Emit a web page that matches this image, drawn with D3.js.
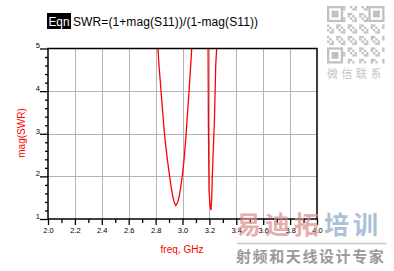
<!DOCTYPE html>
<html>
<head>
<meta charset="utf-8">
<script src="https://cdn.jsdelivr.net/npm/d3@7"></script>
<style>
  body { margin: 0; background: #fff; }
  svg { display: block; font-family: "Liberation Sans", Arial, sans-serif; }
</style>
</head>
<body>
<svg id="chart" width="394" height="271"></svg>
<script>
const svg = d3.select("#chart");

// SWR curve (freq in GHz, mag(SWR))
const freq = [2.800, 2.8125, 2.825, 2.8375, 2.850, 2.8625, 2.875, 2.8875, 2.900, 2.9125,
              2.925, 2.9375, 2.950, 2.9625, 2.975, 2.9875, 3.000, 3.0125, 3.025, 3.0375,
              3.050, 3.0625, 3.075, 3.130, 3.1875, 3.1925, 3.1975, 3.205, 3.212, 3.217,
              3.222, 3.229, 3.237, 3.242, 3.247, 3.254, 3.262];
const swr  = [6.2, 5.25, 4.62, 4.12, 3.62, 3.12, 2.72, 2.40, 2.10, 1.82,
              1.57, 1.40, 1.32, 1.38, 1.52, 1.76, 2.05, 2.42, 2.92, 3.48,
              4.06, 4.68, 5.35, 9.0, 7.0, 3.2, 1.65, 1.30, 1.21, 1.48,
              2.03, 2.65, 3.28, 3.90, 4.60, 5.0, 5.6];

const xTicks = [2.0, 2.2, 2.4, 2.6, 2.8, 3.0, 3.2, 3.4, 3.6, 3.8, 4.0];
const yTicks = [1, 2, 3, 4, 5];

const plot = { left: 48, right: 317, top: 48.5, bottom: 219 };

const x = d3.scaleLinear().domain([2, 4]).range([plot.left, plot.right]);
const y = d3.scaleLinear().domain([1, 5]).range([plot.bottom, plot.top]);

// title
svg.append("rect").attr("x", 47).attr("y", 13).attr("width", 24).attr("height", 16).attr("fill", "#000");
svg.append("text").attr("x", 48.5).attr("y", 25.5).attr("fill", "#fff").attr("font-size", 12)
    .attr("textLength", 21).attr("lengthAdjust", "spacingAndGlyphs").text("Eqn");
svg.append("text").attr("x", 73).attr("y", 25.5).attr("fill", "#000").attr("font-size", 12)
    .attr("textLength", 185).text("SWR=(1+mag(S11))/(1-mag(S11))");

// grid
svg.append("g").selectAll("line").data(xTicks.slice(1, -1)).enter().append("line")
    .attr("x1", d => Math.round(x(d)) + 0.5).attr("x2", d => Math.round(x(d)) + 0.5)
    .attr("y1", plot.top).attr("y2", plot.bottom)
    .attr("stroke", "#b4b4b4").attr("stroke-width", 1);
svg.append("g").selectAll("line").data(yTicks.slice(1, -1)).enter().append("line")
    .attr("y1", d => Math.round(y(d)) + 0.5).attr("y2", d => Math.round(y(d)) + 0.5)
    .attr("x1", plot.left).attr("x2", plot.right)
    .attr("stroke", "#b4b4b4").attr("stroke-width", 1);

// curve
svg.append("clipPath").attr("id", "clip").append("rect")
    .attr("x", plot.left).attr("y", plot.top)
    .attr("width", plot.right - plot.left).attr("height", plot.bottom - plot.top);

const line = d3.line().x((d, i) => x(freq[i])).y(d => y(d));
svg.append("path").datum(swr)
    .attr("clip-path", "url(#clip)")
    .attr("d", line)
    .attr("fill", "none").attr("stroke", "#ff0000").attr("stroke-width", 1.3);

// frame
svg.append("rect").attr("x", plot.left).attr("y", plot.top)
    .attr("width", plot.right - plot.left).attr("height", plot.bottom - plot.top)
    .attr("fill", "none").attr("stroke", "#000").attr("stroke-width", 1.5);

// axes
const xAxis = svg.append("g").attr("transform", `translate(0,${plot.bottom})`)
    .call(d3.axisBottom(x).tickValues(d3.range(2.0, 4.05, 0.1)).tickSize(5)
        .tickFormat(d => xTicks.some(t => Math.abs(t - d) < 1e-6) ? d3.format(".1f")(d) : ""));
xAxis.select(".domain").remove();
xAxis.selectAll(".tick line").attr("stroke", "#000").attr("stroke-width", 1.3)
    .attr("y2", (d, i) => i % 2 === 0 ? 6 : 4);
xAxis.selectAll(".tick text").attr("font-size", 7.5).attr("font-family", "Liberation Sans, Arial")
    .attr("fill", "#000").attr("y", 9);

const yAxis = svg.append("g").attr("transform", `translate(${plot.left},0)`)
    .call(d3.axisLeft(y).tickValues(d3.range(1, 5.01, 0.2)).tickSize(5)
        .tickFormat(d => Math.abs(d - Math.round(d)) < 1e-6 ? d3.format("d")(Math.round(d)) : ""));
yAxis.select(".domain").remove();
yAxis.selectAll(".tick line").attr("stroke", "#000").attr("stroke-width", 1.3)
    .attr("x2", (d, i) => i % 5 === 0 ? -8 : -3);
yAxis.selectAll(".tick text").attr("font-size", 7.5).attr("font-family", "Liberation Sans, Arial")
    .attr("fill", "#000").attr("x", -8).attr("dy", "-0.1em");

// axis titles
svg.append("text").attr("x", 182).attr("y", 253).attr("text-anchor", "middle")
    .attr("fill", "#ff0000").attr("font-size", 10).text("freq, GHz");
svg.append("text").attr("transform", "translate(25,133) rotate(-90)").attr("text-anchor", "middle")
    .attr("fill", "#ff0000").attr("font-size", 10).text("mag(SWR)");

// watermark: QR block
const qr = svg.append("g").attr("transform", "translate(327,6)").attr("opacity", 0.45);
const cell = 2.3, n = 25;
for (let i = 0; i < n; i++) {
    for (let j = 0; j < n; j++) {
        const inFinder = (i < 7 && j < 7) || (i < 7 && j >= n - 7) || (i >= n - 7 && j < 7);
        if (inFinder) continue;
        if (((i * 7 + j * 13 + i * j) % 5) < 2) {
            qr.append("rect").attr("x", j * cell).attr("y", i * cell)
                .attr("width", cell).attr("height", cell).attr("fill", "#777");
        }
    }
}
[[0, 0], [0, n - 7], [n - 7, 0]].forEach(([r, c]) => {
    qr.append("rect").attr("x", c * cell + cell / 2).attr("y", r * cell + cell / 2)
        .attr("width", cell * 6).attr("height", cell * 6)
        .attr("fill", "none").attr("stroke", "#777").attr("stroke-width", cell);
    qr.append("rect").attr("x", c * cell + cell * 2).attr("y", r * cell + cell * 2)
        .attr("width", cell * 3).attr("height", cell * 3).attr("fill", "#777");
});
svg.append("text").attr("x", 356).attr("y", 78).attr("text-anchor", "middle")
    .attr("font-family", "Noto Sans CJK SC").attr("font-size", 11).attr("letter-spacing", 3.5)
    .attr("fill", "#c4c4c4").text("微信联系");

// watermark: text
const wm = svg.append("g").attr("font-family", "Noto Sans CJK SC").attr("font-weight", "bold");
wm.append("text").attr("x", 236).attr("y", 234).attr("font-size", 25).attr("letter-spacing", 4)
    .attr("fill", "#d98c8c").attr("opacity", 0.7).text("易迪拓");
wm.append("text").attr("x", 324).attr("y", 234).attr("font-size", 25).attr("letter-spacing", 4)
    .attr("fill", "#8aa6c6").attr("opacity", 0.7).text("培训");
wm.append("line").attr("x1", 237).attr("x2", 386).attr("y1", 243.5).attr("y2", 243.5)
    .attr("stroke", "#c8c8c8").attr("stroke-width", 1.5);
wm.append("text").attr("x", 236).attr("y", 262).attr("font-size", 15).attr("letter-spacing", 1.6)
    .attr("fill", "#9a9a9a").text("射频和天线设计专家");
</script>
</body>
</html>
